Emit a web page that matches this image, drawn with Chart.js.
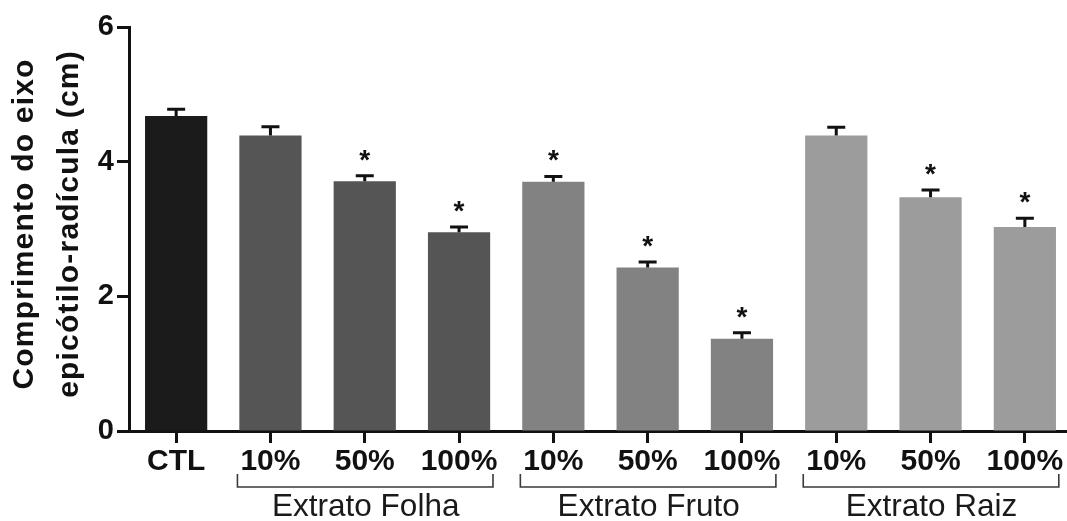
<!DOCTYPE html>
<html>
<head>
<meta charset="utf-8">
<script src="https://cdn.jsdelivr.net/npm/chart.js@4/dist/chart.umd.min.js"></script>
<style>
  html, body { margin: 0; padding: 0; background: #fff; overflow: hidden; }
  #wrap { width: 1072px; height: 521px; }
</style>
</head>
<body>
<div id="wrap"><canvas id="c" width="1072" height="521"></canvas></div>
<script>
// Treatment labels along the x axis
const categories = ['CTL', '10%', '50%', '100%', '10%', '50%', '100%', '10%', '50%', '100%'];
// Mean length (cm) and standard error for each treatment
const means  = [4.68, 4.39, 3.71, 2.95, 3.70, 2.43, 1.37, 4.39, 3.47, 3.03];
const errors = [0.10, 0.13, 0.08, 0.08, 0.08, 0.08, 0.09, 0.12, 0.11, 0.13];
// Marks which treatments differ significantly from the control
const significant = [false, false, true, true, true, true, true, false, true, true];
// Bar fill per treatment (control, leaf, fruit, root extracts)
const barColors = ['#1b1b1b', '#555555', '#555555', '#555555',
                   '#828282', '#828282', '#828282',
                   '#9c9c9c', '#9c9c9c', '#9c9c9c'];
// Extract groups shown beneath the percentages
const groupLabels = ['Extrato Folha', 'Extrato Fruto', 'Extrato Raiz'];
const groupFirst  = [1, 4, 7];
const groupLast   = [3, 6, 9];
// Y axis ticks and two-line axis title
const yTicks = [0, 2, 4, 6];
const yTitle = ['Comprimento do eixo', 'epicótilo-radícula (cm)'];

const INK = '#111111';
const FONT = '"Liberation Sans", Arial, Helvetica, sans-serif';

const annotations = {
  id: 'annotations',
  afterDatasetsDraw(chart) {
    const ctx = chart.ctx;
    const x = chart.scales.x;
    const y = chart.scales.y;
    const cat = x.getPixelForValue(1) - x.getPixelForValue(0);
    ctx.save();
    // error bars (upper half) with caps, plus significance stars
    ctx.strokeStyle = INK;
    ctx.lineWidth = 3;
    means.forEach((m, i) => {
      const cx = x.getPixelForValue(i);
      const yTop = y.getPixelForValue(m);
      const yErr = y.getPixelForValue(m + errors[i]);
      ctx.beginPath();
      ctx.moveTo(cx, yTop);
      ctx.lineTo(cx, yErr);
      ctx.moveTo(cx - 9, yErr);
      ctx.lineTo(cx + 9, yErr);
      ctx.stroke();
      if (significant[i]) {
        ctx.fillStyle = INK;
        ctx.font = 'bold 28px ' + FONT;
        ctx.textAlign = 'center';
        ctx.textBaseline = 'alphabetic';
        ctx.fillText('*', cx, yErr - 7);
      }
    });
    // group brackets and their names
    ctx.strokeStyle = '#3a3a3a';
    ctx.lineWidth = 1.6;
    const by = 487, bt = 474;
    groupLabels.forEach((name, g) => {
      const x0 = x.getPixelForValue(groupFirst[g]) - 0.35 * cat;
      const x1 = x.getPixelForValue(groupLast[g]) + 0.36 * cat;
      ctx.beginPath();
      ctx.moveTo(x0, bt);
      ctx.lineTo(x0, by);
      ctx.lineTo(x1, by);
      ctx.lineTo(x1, bt);
      ctx.stroke();
      const mid = (x.getPixelForValue(groupFirst[g]) + x.getPixelForValue(groupLast[g])) / 2;
      ctx.fillStyle = '#1a1a1a';
      ctx.font = '31.5px ' + FONT;
      ctx.textAlign = 'center';
      ctx.textBaseline = 'alphabetic';
      ctx.fillText(name, mid + 1, 516);
    });
    // rotated two-line y-axis title
    ctx.fillStyle = INK;
    ctx.font = 'bold 30px ' + FONT;
    ctx.letterSpacing = '1.2px';
    ctx.textAlign = 'center';
    ctx.textBaseline = 'alphabetic';
    const cy = (y.top + y.bottom) / 2 - 5;
    const baselines = [33, 78];
    yTitle.forEach((line, k) => {
      ctx.save();
      ctx.translate(baselines[k], cy);
      ctx.rotate(-Math.PI / 2);
      ctx.fillText(line, 0, 0);
      ctx.restore();
    });
    ctx.restore();
  }
};

new Chart(document.getElementById('c'), {
  type: 'bar',
  data: {
    labels: categories,
    datasets: [{
      data: means,
      backgroundColor: barColors,
      borderWidth: 0,
      categoryPercentage: 1.0,
      barPercentage: 0.66
    }]
  },
  options: {
    responsive: false,
    animation: false,
    events: [],
    layout: { padding: { top: 27, right: 0, bottom: 0, left: 0 } },
    plugins: { legend: { display: false }, tooltip: { enabled: false } },
    scales: {
      x: {
        grid: { display: true, drawOnChartArea: false, offset: false,
                tickLength: 12, tickWidth: 3, tickColor: INK },
        border: { display: true, color: INK, width: 3 },
        ticks: {
          color: INK, padding: 1, maxRotation: 0, autoSkip: false,
          font: { family: FONT, size: 30, weight: 'bold' }
        },
        afterFit(scale) { scale.height = 90; }
      },
      y: {
        min: 0, max: 6,
        afterBuildTicks(scale) { scale.ticks = yTicks.map(v => ({ value: v })); },
        grid: { display: true, drawOnChartArea: false,
                tickLength: 12, tickWidth: 3, tickColor: INK },
        border: { display: true, color: INK, width: 3 },
        ticks: {
          color: INK, padding: 3,
          font: { family: FONT, size: 29, weight: 'bold' }
        },
        afterFit(scale) { scale.width = 129; }
      }
    }
  },
  plugins: [annotations]
});
</script>
</body>
</html>
